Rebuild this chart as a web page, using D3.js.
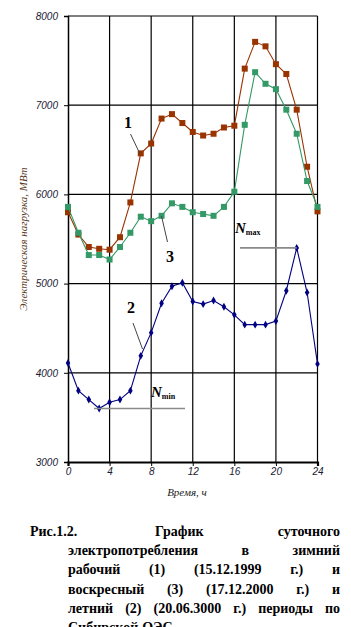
<!DOCTYPE html>
<html>
<head>
<meta charset="utf-8">
<script src="https://cdn.jsdelivr.net/npm/d3@7/dist/d3.min.js"></script>
<style>
  body { margin: 0; background: #fff; }
  svg { display: block; }
</style>
</head>
<body>
<div id="chart"></div>
<script>
// hours of the day
const hours = [0,1,2,3,4,5,6,7,8,9,10,11,12,13,14,15,16,17,18,19,20,21,22,23,24];
// (1) winter workday 15.12.1999
const winterWork = [5800,5550,5410,5390,5380,5520,5910,6460,6570,6850,6900,6800,6700,6660,6680,6750,6770,7410,7710,7660,7460,7350,6950,6310,5810];
// (3) winter sunday 17.12.2000
const winterSunday = [5860,5570,5320,5320,5270,5410,5570,5750,5700,5760,5900,5860,5800,5780,5760,5860,6030,6780,7370,7240,7180,6950,6680,6150,5860];
// (2) summer 20.06
const summer = [4110,3800,3700,3600,3670,3700,3800,4190,4450,4780,4970,5010,4800,4770,4810,4740,4650,4540,4540,4540,4580,4920,5400,4900,4100];
const xTicks = [0,4,8,12,16,20,24];
const yTicks = [3000,4000,5000,6000,7000,8000];

const caption = [
  ["Рис.1.2.", "График", "суточного"],
  ["электропотребления", "в", "зимний"],
  ["рабочий", "(1)", "(15.12.1999", "г.)", "и"],
  ["воскресный", "(3)", "(17.12.2000", "г.)", "и"],
  ["летний", "(2)", "(20.06.3000", "г.)", "периоды", "по"],
  ["Сибирской", "ОЭС"]
];

const width = 351, height = 627;
const svg = d3.select("#chart").append("svg")
  .attr("width", width)
  .attr("height", height);

const x = d3.scaleLinear().domain([0, 24]).range([68, 317.5]);
const y = d3.scaleLinear().domain([3000, 8000]).range([462, 16]);

// grid
svg.append("g")
  .attr("stroke", "#000")
  .attr("stroke-width", 1.2)
  .call(g => g.selectAll("line.h").data(yTicks.slice(1)).join("line")
    .attr("x1", x(0)).attr("x2", x(24))
    .attr("y1", d => y(d)).attr("y2", d => y(d)))
  .call(g => g.selectAll("line.v").data(xTicks.slice(1)).join("line")
    .attr("x1", d => x(d)).attr("x2", d => x(d))
    .attr("y1", y(8000)).attr("y2", y(3000)));

// axes
const yAxis = svg.append("g")
  .attr("transform", `translate(${x(0)},0)`)
  .call(d3.axisLeft(y).tickValues(yTicks).tickFormat(d3.format("d")).tickSize(4).tickPadding(6));
yAxis.select(".domain").attr("stroke-width", 1.5);
yAxis.selectAll("text")
  .attr("font-family", "'Liberation Sans', Arial, sans-serif")
  .attr("font-style", "italic")
  .attr("font-size", 10)
  .attr("fill", "#1a1a33");

const xAxis = svg.append("g")
  .attr("transform", `translate(0,${y(3000)})`)
  .call(d3.axisBottom(x).tickValues(xTicks).tickFormat(d3.format("d")).tickSize(4).tickPadding(2));
xAxis.select(".domain").attr("stroke-width", 2.2);
xAxis.selectAll("text")
  .attr("font-family", "'Liberation Sans', Arial, sans-serif")
  .attr("font-style", "italic")
  .attr("font-size", 10)
  .attr("fill", "#1a1a33");

// axis titles
svg.append("text")
  .attr("transform", "translate(27,239) rotate(-90)")
  .attr("text-anchor", "middle")
  .attr("font-family", "'Liberation Serif', 'Times New Roman', serif")
  .attr("font-style", "italic")
  .attr("font-size", 11)
  .attr("fill", "#5a3a22")
  .text("Электрическая нагрузка, МВт");

svg.append("text")
  .attr("x", 187).attr("y", 496)
  .attr("text-anchor", "middle")
  .attr("font-family", "'Liberation Serif', 'Times New Roman', serif")
  .attr("font-style", "italic")
  .attr("font-size", 11)
  .attr("fill", "#222")
  .text("Время, ч");

// series
const series = [
  { values: winterWork, color: "#993300", shape: "square" },
  { values: winterSunday, color: "#339966", shape: "square" },
  { values: summer, color: "#000080", shape: "diamond" }
];
const line = d3.line().x((d, i) => x(hours[i])).y(d => y(d));

series.forEach(s => {
  svg.append("path")
    .datum(s.values)
    .attr("fill", "none")
    .attr("stroke", s.color)
    .attr("stroke-width", 1.1)
    .attr("d", line);
  if (s.shape === "square") {
    svg.append("g").selectAll("rect")
      .data(s.values)
      .join("rect")
      .attr("x", (d, i) => x(hours[i]) - 3)
      .attr("y", d => y(d) - 3)
      .attr("width", 6).attr("height", 6)
      .attr("fill", s.color);
  } else {
    svg.append("g").selectAll("path")
      .data(s.values)
      .join("path")
      .attr("transform", (d, i) => `translate(${x(hours[i])},${y(d)})`)
      .attr("d", d3.symbol(d3.symbolDiamond, 18))
      .attr("fill", s.color);
  }
});

// labels 1, 2, 3 with leaders
const serif = "'Liberation Serif', 'Times New Roman', serif";
const labels = [
  { t: "1", tx: 128, ty: 128, x1: 130.5, y1: 134, x2: 140, y2: 154 },
  { t: "3", tx: 170, ty: 262, x1: 161.5, y1: 216, x2: 167.5, y2: 242 },
  { t: "2", tx: 131, ty: 313, x1: 133, y1: 323, x2: 142.5, y2: 349 }
];
labels.forEach(l => {
  svg.append("line")
    .attr("x1", l.x1).attr("y1", l.y1).attr("x2", l.x2).attr("y2", l.y2)
    .attr("stroke", "#444").attr("stroke-width", 1);
  svg.append("text")
    .attr("x", l.tx).attr("y", l.ty)
    .attr("text-anchor", "middle")
    .attr("font-family", serif)
    .attr("font-weight", "bold")
    .attr("font-size", 16)
    .text(l.t);
});

// N max / N min
const iMax = summer.indexOf(d3.max(summer));
const iMin = summer.indexOf(d3.min(summer));
svg.append("line")
  .attr("x1", 240).attr("x2", x(hours[iMax]))
  .attr("y1", y(summer[iMax])).attr("y2", y(summer[iMax]))
  .attr("stroke", "#8a8a8a").attr("stroke-width", 1.6);
svg.append("line")
  .attr("x1", 94).attr("x2", 185)
  .attr("y1", y(summer[iMin])).attr("y2", y(summer[iMin]))
  .attr("stroke", "#8a8a8a").attr("stroke-width", 1.6);

function nLabel(xp, yp, sub) {
  const t = svg.append("text")
    .attr("x", xp).attr("y", yp)
    .attr("font-family", serif)
    .attr("font-weight", "bold")
    .attr("font-style", "italic")
    .attr("font-size", 15);
  t.append("tspan").text("N");
  t.append("tspan")
    .attr("font-size", 8)
    .attr("font-style", "normal")
    .attr("dy", 1.5)
    .text(sub);
}
nLabel(235, 233, "max");
nLabel(151, 397, "min");

// caption, justified
const cap = svg.append("g")
  .attr("font-family", serif)
  .attr("font-weight", "bold")
  .attr("font-size", 14)
  .attr("fill", "#000");

function placeLine(words, x0, x1, yb, justify) {
  const nodes = words.map(w => cap.append("text").attr("y", yb).text(w));
  const widths = nodes.map(n => n.node().getComputedTextLength());
  const gap = justify && words.length > 1
    ? (x1 - x0 - d3.sum(widths)) / (words.length - 1)
    : 4;
  let cx = x0;
  nodes.forEach((n, i) => { n.attr("x", cx); cx += widths[i] + gap; });
}

cap.append("text").attr("x", 30).attr("y", 536).text(caption[0][0]);
placeLine(caption[0].slice(1), 155, 340, 536, true);
caption.slice(1).forEach((words, i) => {
  placeLine(words, 68, 340, 555 + i * 19.3, i < 4);
});
</script>
</body>
</html>
